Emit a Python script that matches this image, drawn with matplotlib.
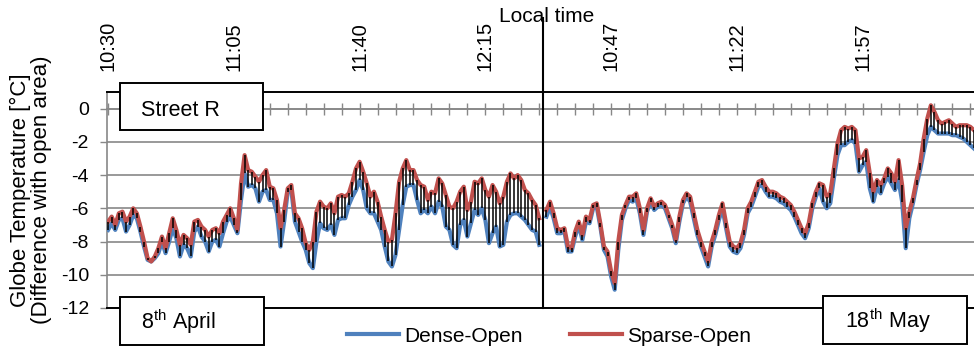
import numpy as np
import matplotlib
matplotlib.use("Agg")
import matplotlib.pyplot as plt
from matplotlib.patches import Rectangle

plt.rcParams["font.family"] = ["Liberation Sans", "DejaVu Sans"]
plt.rcParams["axes.unicode_minus"] = False

# 1-min samples. 8 April 10:30-12:30, then one empty slot, then 18 May 10:29-12:28
APR_SPARSE = [
    -6.8, -6.5, -7.0, -6.3, -6.2, -6.8, -6.5, -6.0, -6.3, -7.1,
    -8.0, -9.0, -9.2, -8.9, -8.4, -7.7, -8.4, -7.5, -6.6, -7.3,
    -8.2, -7.6, -7.8, -8.2, -6.8, -6.7, -7.1, -7.3, -7.7, -7.3,
    -7.2, -7.5, -6.8, -6.4, -6.0, -6.6, -7.3, -4.5, -2.8, -3.7,
    -3.8, -4.1, -4.4, -4.0, -3.7, -4.7, -4.8, -5.5, -7.2, -6.1,
    -4.8, -4.6, -6.3, -6.6, -7.2, -8.1, -8.5, -8.0, -6.2, -5.6,
    -5.9, -6.0, -5.7, -6.3, -5.3, -5.2, -5.3, -5.1, -4.4, -3.6,
    -3.2, -3.8, -4.5, -5.3, -5.0, -5.6, -6.5, -7.3, -8.0, -7.9,
    -6.3, -4.4, -3.6, -3.1, -3.7, -3.7, -4.3, -4.6, -4.7, -5.5,
    -5.0, -5.1, -4.2, -4.5, -5.2, -5.9, -6.0, -5.6, -5.0, -4.7,
    -6.1, -5.6, -4.4, -4.5, -4.2, -4.9, -5.3, -4.6, -5.0, -5.7,
    -5.3, -4.4, -3.9, -4.2, -4.0, -4.3, -4.9, -5.1, -5.5, -5.8,
    -6.6,
]
APR_DENSE = [
    -7.3, -6.9, -7.3, -6.7, -6.6, -7.4, -7.0, -6.4, -6.6, -7.4,
    -8.3, -9.1, -9.2, -9.0, -8.7, -8.0, -8.7, -8.0, -7.2, -7.8,
    -8.9, -8.2, -8.4, -8.9, -7.4, -7.1, -7.7, -8.0, -8.6, -8.0,
    -7.9, -8.3, -7.5, -6.8, -6.5, -7.0, -7.5, -5.5, -3.9, -4.7,
    -4.6, -4.8, -5.6, -5.0, -4.9, -5.5, -5.5, -6.3, -8.3, -6.8,
    -5.0, -4.9, -6.8, -7.4, -8.0, -8.5, -9.3, -9.6, -8.0, -6.9,
    -7.2, -7.3, -7.0, -7.6, -6.7, -6.6, -6.6, -5.8, -5.3, -4.9,
    -4.3, -4.9, -6.0, -6.3, -6.3, -6.8, -7.3, -8.3, -9.2, -9.5,
    -8.8, -7.3, -5.8, -4.7, -4.6, -4.6, -5.5, -6.3, -6.1, -6.3,
    -5.9, -6.3, -5.6, -5.9, -7.1, -7.3, -8.2, -8.4, -7.0, -6.7,
    -7.7, -6.9, -6.1, -6.4, -6.0, -6.7, -8.1, -7.5, -7.1, -8.3,
    -8.2, -6.8, -6.4, -6.3, -6.3, -6.5, -6.7, -7.0, -7.3, -7.4,
    -8.2,
]
MAY_SPARSE = [
    -6.1, -5.6, -6.3, -7.2, -7.3, -7.2, -8.3, -8.4, -7.4, -6.8,
    -7.6, -6.5, -6.7, -5.8, -5.7, -6.9, -8.3, -8.6, -9.8, -10.5,
    -8.0, -6.4, -5.8, -5.3, -5.3, -5.1, -6.0, -7.3, -6.0, -5.4,
    -5.9, -5.7, -5.6, -5.8, -6.4, -7.0, -7.9, -6.5, -5.5, -5.1,
    -5.3, -6.3, -7.3, -8.0, -8.6, -9.2, -8.0, -7.3, -6.4, -5.7,
    -6.9, -8.0, -8.3, -8.4, -8.1, -7.3, -6.0, -5.6, -5.0, -4.4,
    -4.3, -4.7, -5.0, -5.0, -5.1, -5.3, -5.4, -5.6, -5.8, -6.2,
    -6.7, -7.2, -7.5, -6.9, -5.7, -5.0, -4.5, -4.6, -5.3, -5.1,
    -3.6, -2.1, -1.3, -1.1, -1.2, -1.1, -1.3, -3.0, -2.9, -2.5,
    -3.9, -5.0, -4.3, -4.6, -4.2, -3.6, -3.9, -4.4, -3.1, -4.6,
    -7.2, -6.2, -5.4, -4.3, -3.3, -1.8, -0.6, 0.2, -0.2, -0.7,
    -0.9, -0.8, -0.7, -0.9, -1.1, -1.0, -1.0, -1.0, -1.1, -1.3,
]
MAY_DENSE = [
    -6.5, -5.9, -6.6, -7.5, -7.5, -7.4, -8.6, -8.6, -7.7, -7.0,
    -7.9, -6.8, -6.9, -6.0, -5.9, -7.1, -8.5, -8.9, -10.1, -10.9,
    -8.5, -6.7, -6.0, -5.5, -5.6, -5.4, -6.3, -7.6, -6.2, -5.6,
    -6.1, -5.9, -5.8, -6.0, -6.6, -7.2, -8.1, -6.8, -5.7, -5.3,
    -5.6, -6.6, -7.6, -8.3, -8.9, -9.5, -8.3, -7.6, -6.7, -6.0,
    -7.2, -8.3, -8.6, -8.7, -8.4, -7.6, -6.3, -5.9, -5.3, -4.7,
    -4.6, -5.0, -5.3, -5.3, -5.4, -5.6, -5.7, -5.9, -6.1, -6.5,
    -7.0, -7.5, -7.8, -7.2, -6.0, -5.3, -4.8, -5.6, -6.0, -5.7,
    -4.2, -2.8, -2.2, -2.2, -2.0, -1.9, -2.1, -3.8, -3.4, -3.2,
    -4.8, -5.6, -4.7, -5.1, -4.5, -4.1, -4.5, -4.9, -4.3, -5.6,
    -8.4, -6.6, -5.7, -4.6, -3.7, -2.6, -1.6, -1.1, -1.3, -1.5,
    -1.5, -1.5, -1.5, -1.6, -1.6, -1.7, -1.8, -2.0, -2.2, -2.4,
]
TIME_LABELS = ["10:30", "11:05", "11:40", "12:15", "10:47", "11:22", "11:57"]
LABEL_EVERY = 35
TICK_EVERY = 5
Y_TICKS = [0, -2, -4, -6, -8, -10, -12]

BLUE = "#4F81BD"
RED = "#C0504D"
GREY = "#888888"
W, H = 974, 352


def fx(px):
    return px / W


def fy(py):
    return 1 - py / H


sparse = np.array(APR_SPARSE + [np.nan] + MAY_SPARSE)
dense = np.array(APR_DENSE + [np.nan] + MAY_DENSE)
x = np.arange(len(sparse))
split = len(APR_SPARSE)

fig = plt.figure(figsize=(W / 100, H / 100), dpi=100)
ax = fig.add_axes([fx(107), fy(308), (974 - 107) / W, 216 / H])
ax.set_xlim(-0.3, len(x) - 1)
ax.set_ylim(-12, 1)

ax.plot(x, dense, color=BLUE, lw=3.0, zorder=3, label="Dense-Open",
        solid_joinstyle="round")
ax.plot(x, sparse, color=RED, lw=3.0, zorder=3.1, label="Sparse-Open",
        solid_joinstyle="round")
ok = ~np.isnan(sparse)
ax.vlines(x[ok], dense[ok], sparse[ok], colors="k", lw=1.1, zorder=4)

# frame: black top / -12 line, grey value axis, grey category axis at 0
ax.spines["right"].set_visible(False)
ax.spines["top"].set_color("k")
ax.spines["top"].set_linewidth(1.4)
ax.spines["left"].set_color(GREY)
ax.spines["left"].set_linewidth(1.2)
ax.spines["bottom"].set_position(("data", 0))
ax.spines["bottom"].set_color(GREY)
ax.spines["bottom"].set_linewidth(1.2)
ax.axhline(-12, color="k", lw=1.4, clip_on=False, zorder=2.6)
ax.set_yticks(Y_TICKS)
ax.yaxis.grid(True, color=GREY, lw=1.2, zorder=0)
ax.set_axisbelow(True)
ax.tick_params(axis="y", direction="out", length=5, width=1, color=GREY,
               labelsize=14, pad=8)

ax.set_xticks(np.arange(0, len(x), LABEL_EVERY), labels=TIME_LABELS)
ax.set_xticks(np.arange(0, len(x), TICK_EVERY), minor=True)
ax.tick_params(axis="x", which="both", bottom=True, top=False,
               labelbottom=False, labeltop=True, direction="inout",
               length=8, width=1, color=GREY)
ax.tick_params(axis="x", which="major", labelsize=14.5, labelrotation=90, pad=11)

ax.axvline(split, ymin=0, ymax=(308 - 18) / 216, color="k", lw=1.5,
           clip_on=False, zorder=5)

fig.text(fx(547), fy(16), "Local time", ha="center", va="center", fontsize=15)
fig.text(fx(31), fy(190), "Globe Temperature [°C]\n(Difference with open area)",
         rotation=90, ha="center", va="center", fontsize=16, linespacing=1.05)

ax.legend(loc="center", bbox_to_anchor=(fx(549), fy(336)),
          bbox_transform=fig.transFigure, ncol=2, frameon=False, fontsize=15,
          handlelength=2.5, handletextpad=0.25, columnspacing=2.3)

# label boxes (pixel extents: x0, y0, x1, y1) and text baseline
boxes = [
    ((120, 83, 263, 130), (141, 116), "Street R"),
    ((120, 297, 264, 345), (141, 329), "8$^{\\mathregular{th}}$ April"),
    ((823, 296, 967, 344), (845, 328), "18$^{\\mathregular{th}}$ May"),
]
for (x0, y0, x1, y1), (tx, ty), txt in boxes:
    fig.add_artist(Rectangle((fx(x0), fy(y1)), (x1 - x0) / W, (y1 - y0) / H,
                             transform=fig.transFigure, facecolor="white",
                             edgecolor="k", lw=1.4, zorder=10))
    fig.text(fx(tx), fy(ty), txt, ha="left", va="baseline", fontsize=15.5,
             zorder=11)

fig.savefig("out.png", dpi=100)
